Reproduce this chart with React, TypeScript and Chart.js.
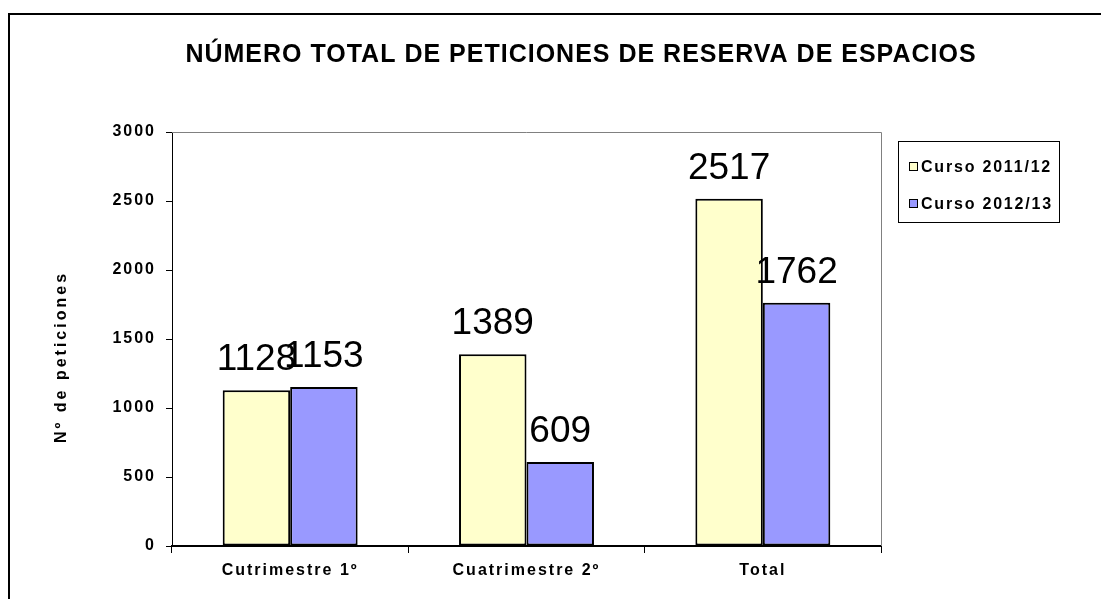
import React, { useEffect, useRef } from "react";
import { Chart, registerables } from "chart.js";

Chart.register(...registerables);

const categories = ["Cutrimestre 1º", "Cuatrimestre 2º", "Total"];
const seriesLabels = ["Curso 2011/12", "Curso 2012/13"];
const curso201112 = [1128, 1389, 2517];
const curso201213 = [1153, 609, 1762];
const yTickValues = [0, 500, 1000, 1500, 2000, 2500, 3000];
const chartTitle = "NÚMERO TOTAL DE PETICIONES DE RESERVA DE ESPACIOS";
const yAxisTitle = "Nº de peticiones";
const seriesColors = ["#FFFFCC", "#9999FF"];

const FONT = '"Liberation Sans", Arial, sans-serif';

const decorPlugin = {
  id: "decor",
  beforeDraw(chart: any) {
    const ctx = chart.ctx as CanvasRenderingContext2D;
    ctx.save();
    ctx.fillStyle = "#fff";
    ctx.fillRect(0, 0, chart.width, chart.height);
    // outer frame
    ctx.strokeStyle = "#000";
    ctx.lineWidth = 2;
    ctx.beginPath();
    ctx.moveTo(9, chart.height);
    ctx.lineTo(9, 14);
    ctx.lineTo(chart.width, 14);
    ctx.stroke();
    // title
    (ctx as any).letterSpacing = "1px";
    ctx.font = `bold 25px ${FONT}`;
    ctx.fillStyle = "#000";
    ctx.textAlign = "center";
    ctx.textBaseline = "middle";
    ctx.fillText(chartTitle, 581, 55);
    // y axis title
    ctx.translate(66, 357);
    ctx.rotate(-Math.PI / 2);
    ctx.font = `bold 16px ${FONT}`;
    (ctx as any).letterSpacing = "3px";
    ctx.textBaseline = "alphabetic";
    ctx.fillText(yAxisTitle, 0, 0);
    ctx.restore();
    (ctx as any).letterSpacing = "2px";
  },
  beforeDatasetsDraw(chart: any) {
    const ctx = chart.ctx as CanvasRenderingContext2D;
    const a = chart.chartArea;
    ctx.save();
    ctx.strokeStyle = "#808080";
    ctx.lineWidth = 1;
    ctx.beginPath();
    ctx.moveTo(a.left, a.top + 0.5);
    ctx.lineTo(a.right + 0.5, a.top + 0.5);
    ctx.lineTo(a.right + 0.5, a.bottom);
    ctx.stroke();
    ctx.restore();
  },
  afterDatasetsDraw(chart: any) {
    const ctx = chart.ctx as CanvasRenderingContext2D;
    ctx.save();
    (ctx as any).letterSpacing = "0px";
    ctx.font = `37px ${FONT}`;
    ctx.fillStyle = "#000";
    ctx.textAlign = "center";
    ctx.textBaseline = "alphabetic";
    chart.data.datasets.forEach((ds: any, di: number) => {
      const meta = chart.getDatasetMeta(di);
      meta.data.forEach((bar: any, i: number) => {
        ctx.fillText(String(ds.data[i]), bar.x, bar.y - 20);
      });
    });
    ctx.restore();
  },
  afterDraw(chart: any) {
    const ctx = chart.ctx as CanvasRenderingContext2D;
    ctx.save();
    ctx.strokeStyle = "#000";
    ctx.lineWidth = 1;
    ctx.strokeRect(898.5, 141.5, 161, 81);
    ctx.font = `bold 16px ${FONT}`;
    (ctx as any).letterSpacing = "1.8px";
    ctx.textAlign = "left";
    ctx.textBaseline = "middle";
    const rows = [166.5, 203.5];
    chart.data.datasets.forEach((ds: any, di: number) => {
      const cy = rows[di];
      ctx.fillStyle = ds.backgroundColor;
      ctx.fillRect(909, cy - 4.5, 9, 9);
      ctx.strokeStyle = "#000";
      ctx.lineWidth = 1;
      ctx.strokeRect(909.5, cy - 4, 8, 8);
      ctx.fillStyle = "#000";
      ctx.fillText(ds.label, 921, cy + 1);
    });
    ctx.restore();
    (ctx as any).letterSpacing = "0px";
  },
};

export default function App() {
  const canvasRef = useRef<HTMLCanvasElement | null>(null);

  useEffect(() => {
    const canvas = canvasRef.current;
    if (!canvas) return;
    const chart = new Chart(canvas, {
      type: "bar",
      data: {
        labels: categories,
        datasets: [
          {
            label: seriesLabels[0],
            data: curso201112,
            backgroundColor: seriesColors[0],
            borderColor: "#000",
            borderWidth: 2,
            borderSkipped: false,
          },
          {
            label: seriesLabels[1],
            data: curso201213,
            backgroundColor: seriesColors[1],
            borderColor: "#000",
            borderWidth: 2,
            borderSkipped: false,
          },
        ],
      },
      options: {
        responsive: false,
        animation: false,
        devicePixelRatio: 1,
        layout: { padding: { left: 0, right: 220, top: 132, bottom: 0 } },
        datasets: { bar: { categoryPercentage: 0.571, barPercentage: 1 } },
        plugins: {
          legend: { display: false },
          title: { display: false },
          tooltip: { enabled: false },
        },
        scales: {
          x: {
            grid: {
              display: true,
              drawOnChartArea: false,
              drawTicks: true,
              tickLength: 7,
              color: "#000",
              lineWidth: 1,
              offset: true,
            },
            border: { color: "#000", width: 2 },
            ticks: {
              color: "#000",
              font: { family: FONT, size: 16, weight: "bold" },
              padding: 8,
              maxRotation: 0,
              autoSkip: false,
            },
            afterFit: (s: any) => {
              s.height = 53;
            },
          },
          y: {
            min: 0,
            max: 3000,
            afterBuildTicks: (s: any) => {
              s.ticks = yTickValues.map((v) => ({ value: v }));
            },
            grid: {
              display: true,
              drawOnChartArea: false,
              drawTicks: true,
              tickLength: 6,
              color: "#000",
              lineWidth: 1,
            },
            border: { color: "#000", width: 1 },
            ticks: {
              color: "#000",
              font: { family: FONT, size: 16, weight: "bold" },
              padding: 10,
              callback: (v: any) => String(v),
            },
            afterFit: (s: any) => {
              s.width = 172;
            },
          },
        },
      },
      plugins: [decorPlugin],
    });
    return () => chart.destroy();
  }, []);

  return (
    <div style={{ position: "fixed", left: 0, top: 0, width: 1101, height: 599, background: "#fff" }}>
      <canvas ref={canvasRef} width={1101} height={599} style={{ display: "block" }} />
    </div>
  );
}
